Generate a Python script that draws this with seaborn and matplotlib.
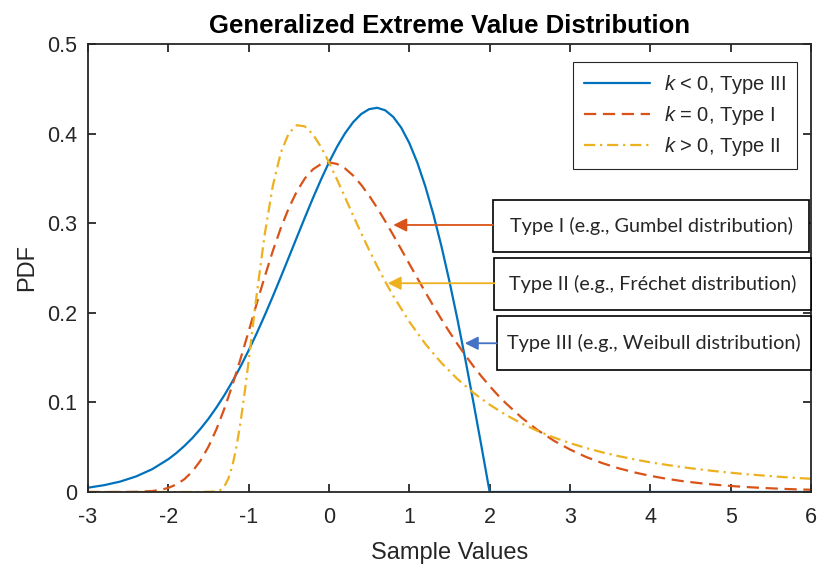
import matplotlib
matplotlib.use("Agg")
import matplotlib.pyplot as plt
from matplotlib.patches import Rectangle
import seaborn as sns

# values
x_type3 = [-3.0, -2.8, -2.6, -2.4, -2.2, -2.0, -1.9, -1.8, -1.7, -1.6, -1.5, -1.4, -1.3, -1.2,
           -1.1, -1.0, -0.9, -0.8, -0.7, -0.6, -0.5, -0.4, -0.3, -0.2, -0.1, 0.0, 0.1, 0.2,
           0.3, 0.4, 0.5, 0.6, 0.7, 0.8, 0.9, 1.0, 1.1, 1.2, 1.3, 1.4, 1.5, 1.6, 1.7, 1.8,
           1.9, 2.0, 6.0]
y_type3 = [0.0048, 0.0076, 0.0116, 0.0174, 0.0255, 0.0366, 0.0435, 0.0514, 0.0603, 0.0705,
           0.0818, 0.0945, 0.1084, 0.1237, 0.1403, 0.1581, 0.1771, 0.1972, 0.2182, 0.2399,
           0.2620, 0.2843, 0.3064, 0.3280, 0.3486, 0.3679, 0.3853, 0.4004, 0.4127, 0.4218,
           0.4273, 0.4288, 0.4260, 0.4186, 0.4065, 0.3894, 0.3675, 0.3408, 0.3096, 0.2742,
           0.2348, 0.1922, 0.1467, 0.0990, 0.0499, 0.0, 0.0]

x_type1 = [-3.0, -2.8, -2.6, -2.4, -2.2, -2.1, -2.0, -1.9, -1.8, -1.7, -1.6, -1.5, -1.4, -1.3,
           -1.2, -1.1, -1.0, -0.9, -0.8, -0.7, -0.6, -0.5, -0.4, -0.3, -0.2, -0.1, 0.0, 0.1,
           0.2, 0.3, 0.4, 0.5, 0.6, 0.7, 0.8, 0.9, 1.0, 1.1, 1.2, 1.3, 1.4, 1.5, 1.6, 1.7,
           1.8, 1.9, 2.0, 2.1, 2.2, 2.4, 2.6, 2.8, 3.0, 3.2, 3.4, 3.6, 3.8, 4.0, 4.2, 4.4,
           4.6, 4.8, 5.0, 5.2, 5.4, 5.6, 5.8, 6.0]
y_type1 = [0.0, 0.0, 0.0, 0.0002, 0.0011, 0.0023, 0.0046, 0.0084, 0.0143, 0.0230, 0.0350,
           0.0507, 0.0703, 0.0936, 0.1200, 0.1490, 0.1794, 0.2102, 0.2404, 0.2688, 0.2946,
           0.3170, 0.3356, 0.3500, 0.3601, 0.3660, 0.3679, 0.3661, 0.3611, 0.3532, 0.3429,
           0.3307, 0.3170, 0.3022, 0.2867, 0.2707, 0.2546, 0.2386, 0.2229, 0.2075, 0.1927,
           0.1785, 0.1650, 0.1522, 0.1401, 0.1288, 0.1182, 0.1083, 0.0992, 0.0828, 0.0689,
           0.0572, 0.0474, 0.0391, 0.0323, 0.0266, 0.0219, 0.0180, 0.0148, 0.0121, 0.0100,
           0.0082, 0.0067, 0.0055, 0.0045, 0.0037, 0.0030, 0.0025]

x_type2 = [-3.0, -2.0, -1.6, -1.4, -1.35, -1.3, -1.25, -1.2, -1.15, -1.1, -1.05, -1.0, -0.95,
           -0.9, -0.8, -0.7, -0.6, -0.5, -0.4, -0.3, -0.2, -0.1, 0.0, 0.1, 0.2, 0.3, 0.4,
           0.5, 0.6, 0.7, 0.8, 1.0, 1.2, 1.4, 1.6, 1.8, 2.0, 2.2, 2.4, 2.6, 2.8, 3.0, 3.2,
           3.4, 3.6, 3.8, 4.0, 4.2, 4.4, 4.6, 4.8, 5.0, 5.2, 5.4, 5.6, 5.8, 6.0]
y_type2 = [0.0, 0.0, 0.0, 0.0006, 0.0023, 0.0067, 0.0155, 0.0302, 0.0514, 0.0787, 0.1109,
           0.1465, 0.1836, 0.2204, 0.2878, 0.3415, 0.3787, 0.4006, 0.4094, 0.4080, 0.3992,
           0.3851, 0.3679, 0.3487, 0.3288, 0.3087, 0.2890, 0.2700, 0.2519, 0.2348, 0.2188,
           0.1900, 0.1652, 0.1440, 0.1260, 0.1105, 0.0974, 0.0861, 0.0764, 0.0680, 0.0608,
           0.0545, 0.0491, 0.0443, 0.0401, 0.0364, 0.0331, 0.0303, 0.0277, 0.0254, 0.0233,
           0.0215, 0.0198, 0.0184, 0.0170, 0.0158, 0.0147]

legend_labels = ["$k$ < 0, Type III", "$k$ = 0, Type I", "$k$ > 0, Type II"]
box_texts = ["Type I (e.g., Gumbel distribution)",
             "Type II (e.g., Fréchet distribution)",
             "Type III (e.g., Weibull distribution)"]
x_ticks = [-3, -2, -1, 0, 1, 2, 3, 4, 5, 6]
y_ticks = [0, 0.1, 0.2, 0.3, 0.4, 0.5]
y_tick_labels = ["0", "0.1", "0.2", "0.3", "0.4", "0.5"]

sns.set_theme(style="ticks")
plt.rcParams['font.family'] = ['Liberation Sans', 'DejaVu Sans']
plt.rcParams['mathtext.fontset'] = 'custom'
plt.rcParams['mathtext.it'] = 'Liberation Sans:italic'
plt.rcParams['mathtext.rm'] = 'Liberation Sans'

c_blue = "#0072BD"
c_orange = "#D95319"
c_yellow = "#EDB120"

fig = plt.figure(figsize=(8.18, 5.67), dpi=100)
ax = fig.add_axes([0.1076, 0.1323, 0.8838, 0.7901])

sns.lineplot(x=x_type3, y=y_type3, ax=ax, color=c_blue, lw=1.6, label=legend_labels[0])
sns.lineplot(x=x_type1, y=y_type1, ax=ax, color=c_orange, lw=1.6, label=legend_labels[1])
sns.lineplot(x=x_type2, y=y_type2, ax=ax, color=c_yellow, lw=1.6, label=legend_labels[2])
ax.lines[1].set_dashes((5.5, 3))
ax.lines[2].set_dashes((5, 2.2, 1, 2.2))

ax.set_xlim(-3, 6)
ax.set_ylim(0, 0.5)
ax.set_xticks(x_ticks)
ax.set_xticklabels([str(t) for t in x_ticks])
ax.set_yticks(y_ticks)
ax.set_yticklabels(y_tick_labels)
ax.tick_params(direction='in', length=6, width=1.3, colors='#262626', labelsize=15.5,
               top=True, right=True)
ax.tick_params(axis='x', pad=11)
ax.tick_params(axis='y', pad=8)
for s in ax.spines.values():
    s.set_visible(True)
    s.set_linewidth(1.3)
    s.set_color('#262626')

ax.set_title("Generalized Extreme Value Distribution", fontsize=18.5, fontweight='bold',
             color='black', pad=8)
ax.set_xlabel("Sample Values", fontsize=17, color='#262626', labelpad=10)
ax.set_ylabel("PDF", fontsize=17, color='#262626', labelpad=6)

leg = ax.legend(loc='upper right', bbox_to_anchor=(0.981, 0.96), borderaxespad=0,
                fancybox=False, edgecolor='#262626', framealpha=1, handlelength=3.3,
                borderpad=0.55, labelspacing=0.4, handletextpad=0.7,
                prop={'size': 14.5})
leg.get_frame().set_linewidth(0.8)

# annotation boxes (data coords) and arrow tips
box_x0 = [2.04, 2.06, 2.09]
box_x1 = [5.98, 6.0, 6.0]
box_y0 = [0.268, 0.203, 0.136]
box_y1 = [0.326, 0.261, 0.196]
tip_x = [0.80, 0.73, 1.69]
tip_y = [0.298, 0.233, 0.166]
arrow_colors = [c_orange, c_yellow, "#4472C4"]

for i in range(3):
    ax.add_patch(Rectangle((box_x0[i], box_y0[i]), box_x1[i] - box_x0[i], box_y1[i] - box_y0[i],
                           fill=True, facecolor='white', edgecolor='black', lw=1.2, zorder=5,
                           clip_on=False))
    ax.text((box_x0[i] + box_x1[i]) / 2, (box_y0[i] + box_y1[i]) / 2, box_texts[i],
            ha='center', va='center', fontsize=14.3, family=['Lato', 'DejaVu Sans'], zorder=6)
    ax.annotate("", xy=(tip_x[i], tip_y[i]), xytext=(box_x0[i], tip_y[i]),
                arrowprops=dict(arrowstyle='-|>', color=arrow_colors[i], lw=1.3,
                                mutation_scale=20, shrinkA=0, shrinkB=0), zorder=6)

fig.savefig("out.png", dpi=100)
